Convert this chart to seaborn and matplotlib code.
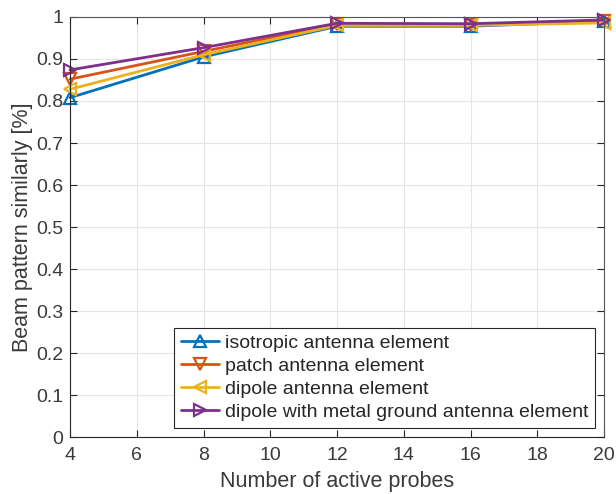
import matplotlib
matplotlib.use("Agg")
import matplotlib.pyplot as plt
import seaborn as sns
import pandas as pd

probes = [4, 8, 12, 16, 20]
isotropic = [0.808, 0.905, 0.978, 0.978, 0.990]
patch = [0.852, 0.918, 0.983, 0.982, 0.990]
dipole = [0.828, 0.910, 0.980, 0.980, 0.986]
dipole_ground = [0.874, 0.927, 0.985, 0.984, 0.993]

names = ["isotropic antenna element", "patch antenna element",
         "dipole antenna element", "dipole with metal ground antenna element"]
series = [isotropic, patch, dipole, dipole_ground]
colors = ["#0072BD", "#D95319", "#EDB120", "#7E2F8E"]
marks = ["^", "v", "<", ">"]

df = pd.DataFrame({
    "probes": probes * len(names),
    "sim": [v for s in series for v in s],
    "element": [n for n in names for _ in probes],
})

sns.set_style("ticks")
plt.rcParams["font.family"] = ["Liberation Sans", "DejaVu Sans"]

fig = plt.figure(figsize=(6.16, 4.94), dpi=100)
ax = fig.add_axes([70 / 616, 1 - 437 / 494, 534 / 616, 420 / 494])

sns.lineplot(data=df, x="probes", y="sim", hue="element", style="element",
             palette=dict(zip(names, colors)), markers=dict(zip(names, marks)),
             dashes=False, linewidth=2, markersize=9, ax=ax, legend=False)

for line, c in zip(ax.lines, colors):
    line.set_markerfacecolor("none")
    line.set_markeredgecolor(c)
    line.set_markeredgewidth(1.6)
    line.set_clip_on(False)

ax.set_xlim(4, 20)
ax.set_ylim(0, 1)
ax.set_xticks(range(4, 21, 2))
ax.set_yticks([i / 10 for i in range(11)])
ax.set_yticklabels(["0"] + [f"{i/10:.1f}" for i in range(1, 10)] + ["1"])
ax.grid(True, color="#e6e6e6", linewidth=0.8)
ax.set_axisbelow(True)
for name, sp in ax.spines.items():
    sp.set_visible(True)
    sp.set_color("#262626" if name in ("left", "bottom") else "#555555")
    sp.set_linewidth(0.8)
ax.tick_params(direction="in", top=True, right=True, length=5, width=0.8,
               colors="#262626", labelsize=14, labelcolor="#3a3a3a")
ax.tick_params(axis="x", pad=7)
ax.tick_params(axis="y", pad=5)
ax.set_xlabel("Number of active probes", fontsize=15.5, color="#3a3a3a",
              labelpad=5)
ax.set_ylabel("Beam pattern similarly [%]", fontsize=15.5, color="#3a3a3a",
              labelpad=2)

leg = ax.legend(ax.lines, names, loc="lower right",
                bbox_to_anchor=(525 / 534, 9 / 420), borderaxespad=0,
                fontsize=14, frameon=True, fancybox=False, handlelength=1.95,
                handletextpad=0.3, borderpad=0.35, labelspacing=0.28)
leg.get_frame().set_edgecolor("#262626")
leg.get_frame().set_linewidth(0.8)
leg.get_frame().set_alpha(1)
for t in leg.get_texts():
    t.set_color("#262626")

fig.savefig("out.png", dpi=100)
